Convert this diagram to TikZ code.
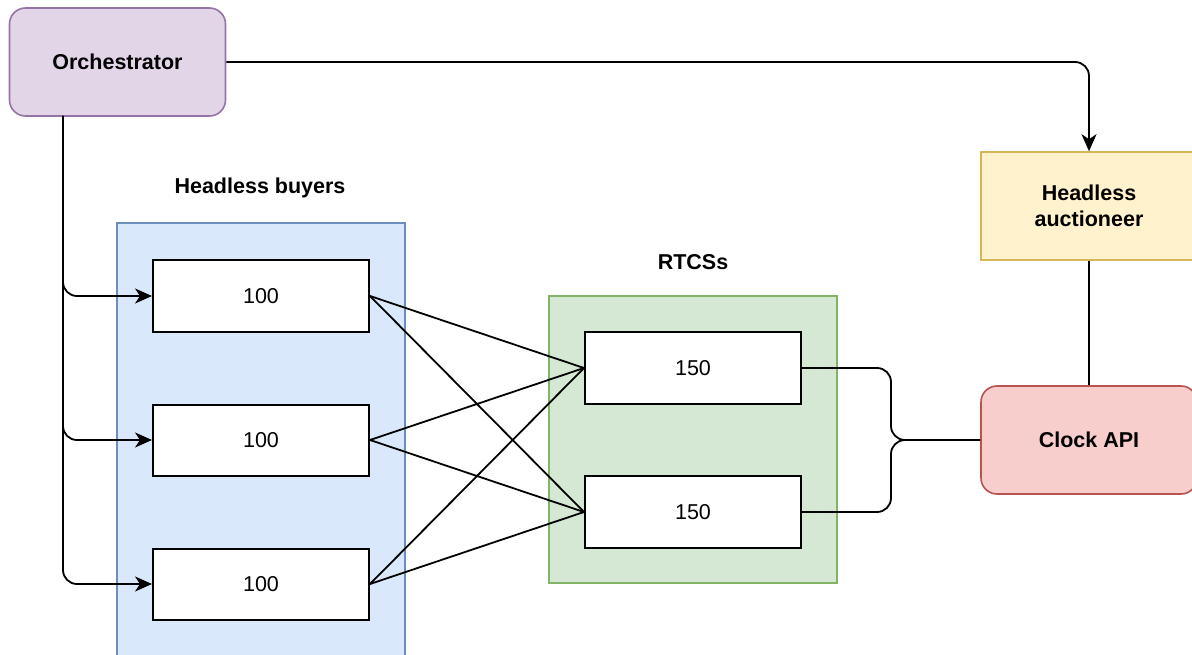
\documentclass[tikz,border=0pt]{standalone}
\usepackage{fontspec}
\setmainfont{Liberation Sans}
\usetikzlibrary{arrows.meta}
\definecolor{purpfill}{HTML}{E1D5E7}\definecolor{purpline}{HTML}{9673A6}
\definecolor{bluefill}{HTML}{DAE8FC}\definecolor{blueline}{HTML}{6C8EBF}
\definecolor{greenfill}{HTML}{D5E8D4}\definecolor{greenline}{HTML}{82B366}
\definecolor{yelfill}{HTML}{FFF2CC}\definecolor{yelline}{HTML}{D6B656}
\definecolor{redfill}{HTML}{F8CECC}\definecolor{redline}{HTML}{B85450}
\begin{document}
\begin{tikzpicture}[x=1pt,y=-1pt,
  lbl/.style={font=\fontsize{21.5}{25.5}\selectfont\bfseries, align=center},
  big/.style={lbl, minimum width=216pt, minimum height=108pt, line width=1.6pt, inner sep=0pt},
  numbox/.style={draw=black, fill=white, line width=2pt, minimum width=216pt, minimum height=71pt, font=\fontsize{21.5}{25.5}\selectfont, inner sep=0pt},
  container/.style={line width=1.4pt, inner sep=0pt},
  conn/.style={line width=1.8pt, rounded corners=14pt},
  arr/.style={conn, -{Stealth[length=17pt, width=15pt, inset=5pt]}}]
\useasboundingbox (0,0) rectangle (1192,655);
% containers
\node[container, draw=blueline, fill=bluefill, minimum width=288pt, minimum height=450pt] (blue) at (261,448) {};
\node[container, draw=greenline, fill=greenfill, minimum width=288pt, minimum height=287pt] (green) at (693,439.5) {};
\node[lbl] (hbl) at (260,188) {Headless buyers};
\node[lbl] (rtl) at (693,262) {RTCSs};
% main nodes
\node[big, draw=purpline, fill=purpfill, rounded corners=16pt] (orch) at (117.5,62) {Orchestrator};
\node[big, draw=yelline, fill=yelfill] (auct) at (1089,206) {Headless\\auctioneer};
\node[big, draw=redline, fill=redfill, rounded corners=16pt] (clock) at (1089,440) {Clock API};
% buyers
\node[numbox] (b1) at (261,296) {100};
\node[numbox] (b2) at (261,440) {100};
\node[numbox] (b3) at (261,584) {100};
% rtcs
\node[numbox, minimum height=72pt] (r1) at (693,368) {150};
\node[numbox, minimum height=72pt] (r2) at (693,512) {150};
% connectors
\coordinate (os) at (63,116);
\coordinate (turn) at (1089,62);
\coordinate (m1) at (891,368);
\coordinate (m2) at (891,512);
\coordinate (mc) at (891,440);
\draw[arr] (orch.east) -- (turn) -- (auct.north);
\draw[arr] (os) |- (b1.west);
\draw[arr] (os) |- (b2.west);
\draw[arr] (os) |- (b3.west);
\foreach \b in {b1,b2,b3}{
  \foreach \r in {r1,r2}{
    \draw[line width=1.8pt] (\b.east) -- (\r.west);
  }
}
\draw[conn] (r1.east) -- (m1) -- (mc) -- (clock.west);
\draw[conn] (r2.east) -- (m2) -- (mc) -- (clock.west);
\draw[line width=1.8pt] (auct.south) -- (clock.north);
\end{tikzpicture}
\end{document}
